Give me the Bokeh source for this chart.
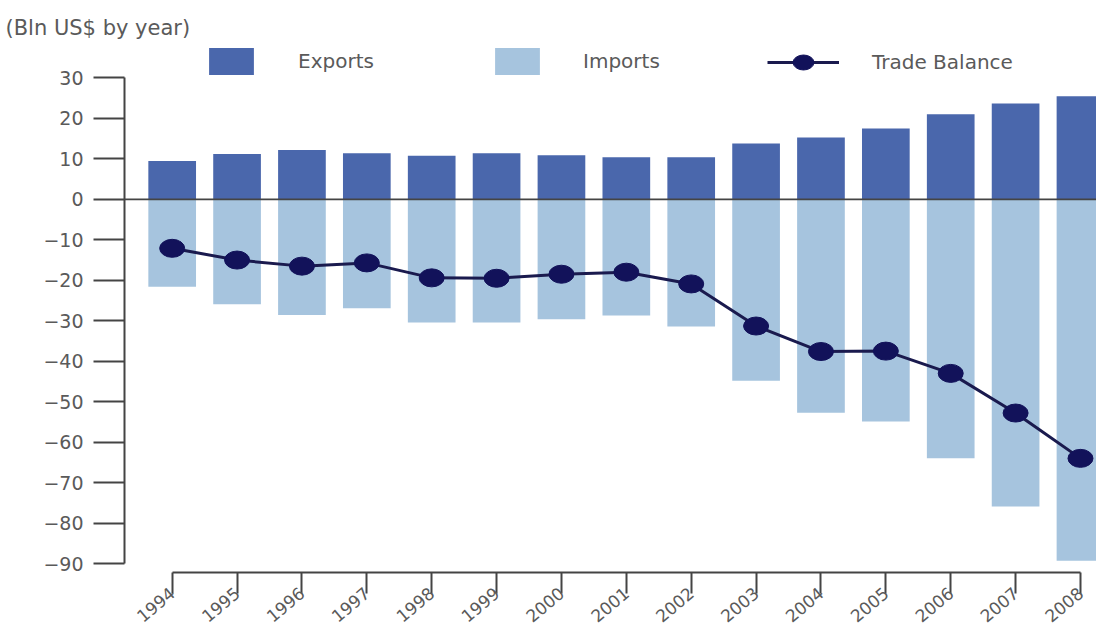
from bokeh.plotting import figure
from bokeh.models import Range1d, FixedTicker, Span, Legend, LegendItem, ColumnDataSource
from bokeh.embed import file_html
from bokeh.resources import INLINE

# ---------------- data ----------------
years = ["1994", "1995", "1996", "1997", "1998", "1999", "2000", "2001",
         "2002", "2003", "2004", "2005", "2006", "2007", "2008"]
exports = [9.5, 11.2, 12.2, 11.4, 10.8, 11.4, 10.9, 10.4, 10.4, 13.8,
           15.3, 17.5, 21.0, 23.7, 25.5]
imports = [-21.6, -25.9, -28.6, -26.9, -30.4, -30.4, -29.6, -28.7, -31.4,
           -44.8, -52.7, -54.9, -64.0, -75.9, -89.3]
trade_balance = [-12.1, -15.0, -16.5, -15.7, -19.4, -19.5, -18.5, -18.0,
                 -20.9, -31.3, -37.6, -37.5, -43.0, -52.8, -64.0]
y_ticks = [-90, -80, -70, -60, -50, -40, -30, -20, -10, 0, 10, 20, 30]
title_text = "(Bln US$ by year)"

# ---------------- styles ----------------
EXPORT_COLOR = "#4a67ac"
IMPORT_COLOR = "#a6c4de"
TB_COLOR = "#12125a"
TB_LINE = "#1a1a4e"
AXIS_COLOR = "#444444"
TEXT_COLOR = "#5a5a5a"
FONT = "DejaVu Sans"

idx = list(range(len(years)))
source = ColumnDataSource(dict(x=idx, year=years, exports=exports,
                               imports=imports, tb=trade_balance))

p = figure(width=1096, height=634,
           x_range=Range1d(-0.735, 14.247), y_range=Range1d(-92.2, 39.25),
           output_backend="svg", toolbar_location=None,
           min_border_left=124, min_border_right=0,
           min_border_top=40, min_border_bottom=62)

p.title.text = title_text
p.title.text_font = FONT
p.title.text_font_size = "21px"
p.title.text_font_style = "normal"
p.title.text_color = TEXT_COLOR
p.title.align = "left"
p.title.offset = -119
p.title.standoff = 2

p.outline_line_color = None
p.xgrid.visible = False
p.ygrid.visible = False
p.background_fill_color = "white"
p.border_fill_color = "white"

r_exp = p.vbar(x="x", top="exports", bottom=0, width=0.735, source=source,
               fill_color=EXPORT_COLOR, line_color=None)
r_imp = p.vbar(x="x", top=0, bottom="imports", width=0.735, source=source,
               fill_color=IMPORT_COLOR, line_color=None)

p.add_layout(Span(location=0, dimension="width", line_color=AXIS_COLOR,
                  line_width=1.8))

r_line = p.line(x="x", y="tb", source=source, line_color=TB_LINE, line_width=3)
r_dot = p.ellipse(x="x", y="tb", width=25, height=18, width_units="screen",
                  height_units="screen", source=source,
                  fill_color=TB_COLOR, line_color=TB_COLOR)

# y axis
yax = p.yaxis[0]
yax.ticker = FixedTicker(ticks=y_ticks)
yax.bounds = (min(y_ticks), max(y_ticks))
yax.axis_line_color = AXIS_COLOR
yax.axis_line_width = 2
yax.major_tick_line_color = AXIS_COLOR
yax.major_tick_line_width = 2
yax.major_tick_in = 0
yax.major_tick_out = 31
yax.minor_tick_line_color = None
yax.major_label_standoff = 10
yax.major_label_text_font = FONT
yax.major_label_text_font_size = "19px"
yax.major_label_text_color = TEXT_COLOR

# x axis
xax = p.xaxis[0]
xax.ticker = FixedTicker(ticks=idx)
xax.major_label_overrides = {i: y for i, y in zip(idx, years)}
xax.bounds = (idx[0], idx[-1])
xax.axis_line_color = AXIS_COLOR
xax.axis_line_width = 2
xax.major_tick_line_color = AXIS_COLOR
xax.major_tick_line_width = 2
xax.major_tick_in = 0
xax.major_tick_out = 21
xax.minor_tick_line_color = None
xax.major_label_orientation = 0.7
xax.major_label_standoff = -3
xax.major_label_text_font = FONT
xax.major_label_text_font_size = "17px"
xax.major_label_text_color = TEXT_COLOR


def make_legend(label, renderers, loc, gw, gh, standoff):
    lg = Legend(items=[LegendItem(label=label, renderers=renderers)],
                location=loc, orientation="horizontal",
                glyph_width=gw, glyph_height=gh, label_standoff=standoff,
                padding=0, margin=0, spacing=0,
                border_line_alpha=0, background_fill_alpha=0,
                label_text_font=FONT, label_text_font_size="20px",
                label_text_color=TEXT_COLOR)
    p.add_layout(lg, "center")


make_legend("Exports", [r_exp], (79, 494), 56, 34, 39)
make_legend("Imports", [r_imp], (365, 494), 56, 34, 38)
make_legend("Trade Balance", [r_line, r_dot], (643, 497), 72, 26, 33)

open("out.html", "w").write(file_html(p, INLINE))
